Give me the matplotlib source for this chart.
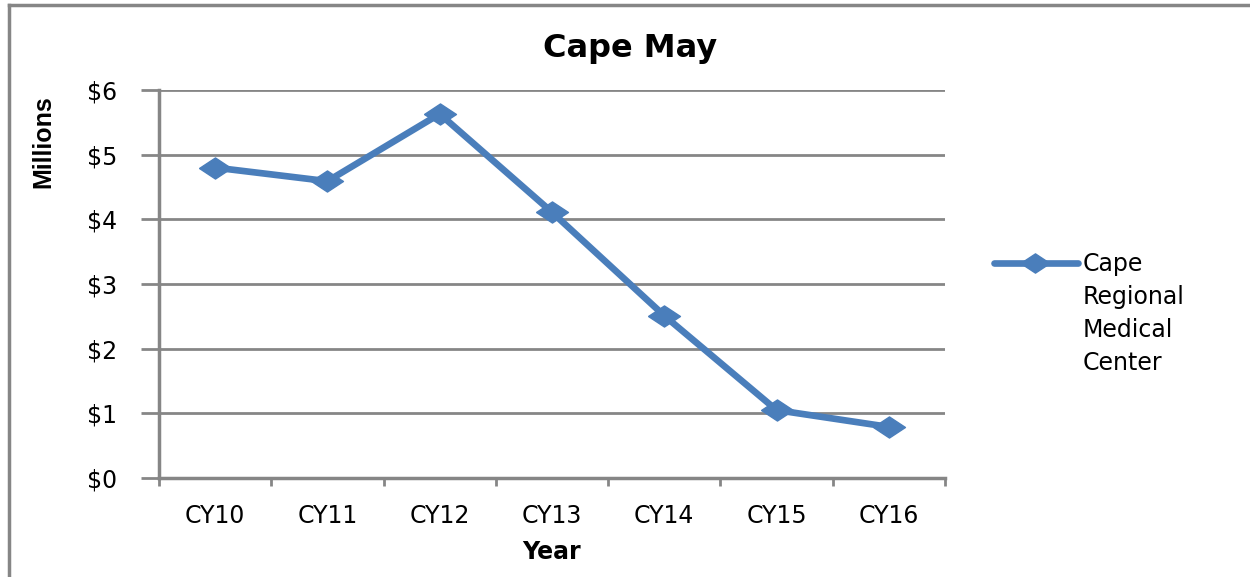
import matplotlib.pyplot as plt
from matplotlib.lines import Line2D

years = ['CY10', 'CY11', 'CY12', 'CY13', 'CY14', 'CY15', 'CY16']
values = [4.80, 4.59, 5.63, 4.11, 2.51, 1.05, 0.79]
y_ticks = [0, 1, 2, 3, 4, 5, 6]
series_lines = ['Cape', 'Regional', 'Medical', 'Center']

plt.rcParams['font.family'] = ['DejaVu Sans']
blue = '#4A7EBB'
gray = '#868686'
diamond = [(-1, 0), (0, 0.66), (1, 0), (0, -0.66), (-1, 0)]

fig = plt.figure(figsize=(12.5, 5.77), dpi=100)
W, H = 1250, 577
left, right, top, bottom = 159, 945, 90, 478
ax = fig.add_axes([left / W, 1 - bottom / H, (right - left) / W, (bottom - top) / H])

x = range(len(years))
ax.plot(x, values, color=blue, lw=4.8, marker=diamond, markersize=23,
        markeredgecolor=blue, solid_joinstyle='round')

ax.set_xlim(-0.5, len(years) - 0.5)
ax.set_ylim(0, 6)
ax.set_yticks(y_ticks)
ax.set_yticklabels(['$%d' % v for v in y_ticks], fontsize=17)
ax.set_xticks(list(x))
ax.set_xticklabels(years, fontsize=17)
ax.set_xticks([i - 0.5 for i in range(len(years) + 1)], minor=True)
ax.tick_params(axis='x', which='major', length=0, pad=19)
ax.tick_params(axis='x', which='minor', length=6, width=2, color=gray)
ax.tick_params(axis='y', length=13, width=2, color=gray, pad=17)
ax.grid(axis='y', color=gray, lw=2)
ax.set_axisbelow(True)
for s in ['top', 'right']:
    ax.spines[s].set_visible(False)
for s in ['left', 'bottom']:
    ax.spines[s].set_color(gray)
    ax.spines[s].set_linewidth(2.5)

fig.text(630 / W, 1 - 48 / H, 'Cape May', ha='center', va='center',
         fontsize=23, fontweight='bold')
fig.text(551 / W, 1 - 552 / H, 'Year', ha='center', va='center',
         fontsize=17, fontweight='bold')
fig.text(43 / W, 1 - 142 / H, 'Millions', ha='center', va='center',
         rotation=90, fontsize=18, fontweight='bold',
         family=['Liberation Sans Narrow', 'Liberation Sans'])

# legend drawn by hand
fig.add_artist(Line2D([994 / W, 1078 / W], [1 - 263 / H, 1 - 263 / H],
                      color=blue, lw=4.8, solid_capstyle='round',
                      transform=fig.transFigure))
fig.add_artist(Line2D([1035 / W], [1 - 263 / H], color=blue, marker=diamond,
                      markersize=21, transform=fig.transFigure))
for i, s in enumerate(series_lines):
    fig.text(1083 / W, 1 - (264 + 33 * i) / H, s, ha='left', va='center',
             fontsize=17)

# chart frame (top and left visible)
fig.add_artist(Line2D([9 / W, 9 / W], [0, 1 - 5 / H], color=gray, lw=2.5,
                      transform=fig.transFigure))
fig.add_artist(Line2D([9 / W, 1], [1 - 5 / H, 1 - 5 / H], color=gray, lw=2.5,
                      transform=fig.transFigure))

fig.savefig('out.png', dpi=100)
